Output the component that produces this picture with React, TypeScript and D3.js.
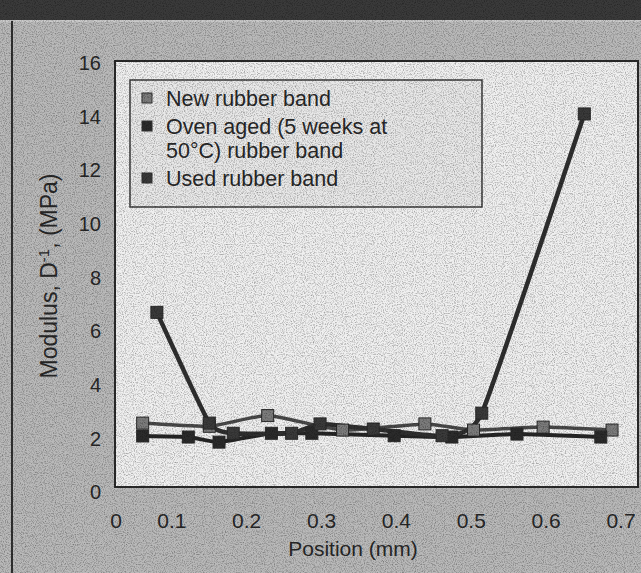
import React from 'react';
import * as d3 from 'd3';

// Modulus profiles across the band, position in mm and modulus in MPa
const newBand: [number, number][] = [
  [0.061, 2.57], [0.15, 2.45], [0.228, 2.85], [0.328, 2.31], [0.438, 2.54],
  [0.503, 2.31], [0.596, 2.42], [0.688, 2.31],
];
const ovenAged: [number, number][] = [
  [0.061, 2.09], [0.122, 2.05], [0.163, 1.86], [0.233, 2.19], [0.287, 2.19],
  [0.397, 2.1], [0.474, 2.05], [0.561, 2.16], [0.673, 2.05],
];
const usedBand: [number, number][] = [
  [0.08, 6.7], [0.15, 2.57], [0.182, 2.19], [0.26, 2.19], [0.298, 2.54],
  [0.369, 2.35], [0.461, 2.1], [0.514, 2.94], [0.651, 14.1],
];

const xTicks = [0, 0.1, 0.2, 0.3, 0.4, 0.5, 0.6, 0.7];
const yTicks = [0, 2, 4, 6, 8, 10, 12, 14, 16];
const legendLabels = [['New rubber band'], ['Oven aged (5 weeks at', '50°C) rubber band'], ['Used rubber band']];

const W = 641;
const H = 573;
const frame = { left: 115, top: 61, right: 638, bottom: 487 };
const FONT = '"Liberation Sans", Arial, Helvetica, sans-serif';
const INK = '#282828';

const x = d3.scaleLinear().domain([0, 0.7]).range([97, 621]);
const y = d3.scaleLinear().domain([0, 16]).range([492, 63]);

const line = d3
  .line<[number, number]>()
  .x((d) => x(d[0]))
  .y((d) => y(d[1]))
  .curve(d3.curveCardinal.tension(0.55));

const series = [
  { key: 'new', data: newBand, stroke: '#4a4a4a', width: 3.5, fill: '#7c7c7c' },
  { key: 'oven', data: ovenAged, stroke: '#262626', width: 4, fill: '#2b2b2b' },
  { key: 'used', data: usedBand, stroke: '#303030', width: 4.5, fill: '#3a3a3a' },
];

const MARK = 12;

export default function App() {
  return (
    <div style={{ position: 'absolute', left: 0, top: 0 }}>
      <svg width={W} height={H} viewBox={`0 0 ${W} ${H}`} style={{ display: 'block' }}>
        <defs>
          <filter id="grain" x="0" y="0" width="100%" height="100%">
            <feTurbulence type="fractalNoise" baseFrequency="0.9" numOctaves="2" seed="3" />
            <feColorMatrix type="matrix" values="0 0 0 0 0  0 0 0 0 0  0 0 0 0 0  0 0 0 -2.2 1.25" />
          </filter>
        </defs>

        {/* page, dark strip above it and page edge */}
        <rect x={0} y={0} width={W} height={H} fill="#b9b9b9" />
        <rect x={0} y={0} width={W} height={20} fill="#3a3a3a" />
        <line x1={0} x2={W} y1={21} y2={21} stroke="#d2d2d2" strokeWidth={1.5} />
        <line x1={12} x2={12} y1={21} y2={H} stroke="#303030" strokeWidth={2} />

        {/* plot area */}
        <rect
          x={frame.left}
          y={frame.top}
          width={frame.right - frame.left}
          height={frame.bottom - frame.top}
          fill="#f0f0f0"
        />

        {/* lines */}
        {series.map((s) => (
          <path
            key={s.key}
            d={line(s.data) ?? ''}
            fill="none"
            stroke={s.stroke}
            strokeWidth={s.width}
            strokeLinejoin="round"
            strokeLinecap="round"
          />
        ))}

        {/* markers */}
        {series.map((s) =>
          s.data.map((d, i) => (
            <rect
              key={`${s.key}-${i}`}
              x={x(d[0]) - MARK / 2}
              y={y(d[1]) - MARK / 2}
              width={MARK}
              height={MARK}
              fill={s.fill}
              stroke="#2a2a2a"
              strokeWidth={1}
            />
          ))
        )}

        <rect
          x={frame.left}
          y={frame.top}
          width={frame.right - frame.left}
          height={frame.bottom - frame.top}
          fill="none"
          stroke="#2a2a2a"
          strokeWidth={2}
        />

        {/* legend */}
        <g>
          <rect x={130} y={80} width={352} height={127} fill="#e2e2e2" fillOpacity={0.6} stroke="#3a3a3a" strokeWidth={1.5} />
          {legendLabels.map((lines, i) => {
            const base = [106, 134, 186][i];
            return (
              <g key={i}>
                <rect x={142} y={base - 13} width={10} height={10} fill={series[i].fill} stroke="#333" strokeWidth={1} />
                <text x={166} y={base} fontFamily={FONT} fontSize={21.5} fill={INK}>
                  {lines.map((t, j) => (
                    <tspan key={j} x={166} y={base + j * 24}>
                      {t}
                    </tspan>
                  ))}
                </text>
              </g>
            );
          })}
        </g>

        {/* y axis labels */}
        {yTicks.map((t) => (
          <text
            key={t}
            x={101}
            y={y(t)}
            dy="0.36em"
            textAnchor="end"
            fontFamily={FONT}
            fontSize={20}
            fill={INK}
          >
            {t}
          </text>
        ))}

        {/* x axis labels; the origin label sits at the frame corner */}
        {xTicks.map((t) => (
          <text
            key={t}
            x={t === 0 ? frame.left + 1 : x(t)}
            y={528}
            textAnchor="middle"
            fontFamily={FONT}
            fontSize={21}
            fill={INK}
          >
            {t === 0 ? '0' : d3.format('.1f')(t)}
          </text>
        ))}

        <text x={353} y={556} textAnchor="middle" fontFamily={FONT} fontSize={21} fill={INK}>
          Position (mm)
        </text>

        <text
          transform={`translate(57, 276) rotate(-90)`}
          textAnchor="middle"
          fontFamily={FONT}
          fontSize={23}
          fill={INK}
        >
          Modulus, D
          <tspan dy={-8} fontSize={15}>-1</tspan>
          <tspan dy={8}>, (MPa)</tspan>
        </text>

        {/* scan grain */}
        <rect x={0} y={0} width={W} height={H} filter="url(#grain)" opacity={0.35} />
      </svg>
    </div>
  );
}
